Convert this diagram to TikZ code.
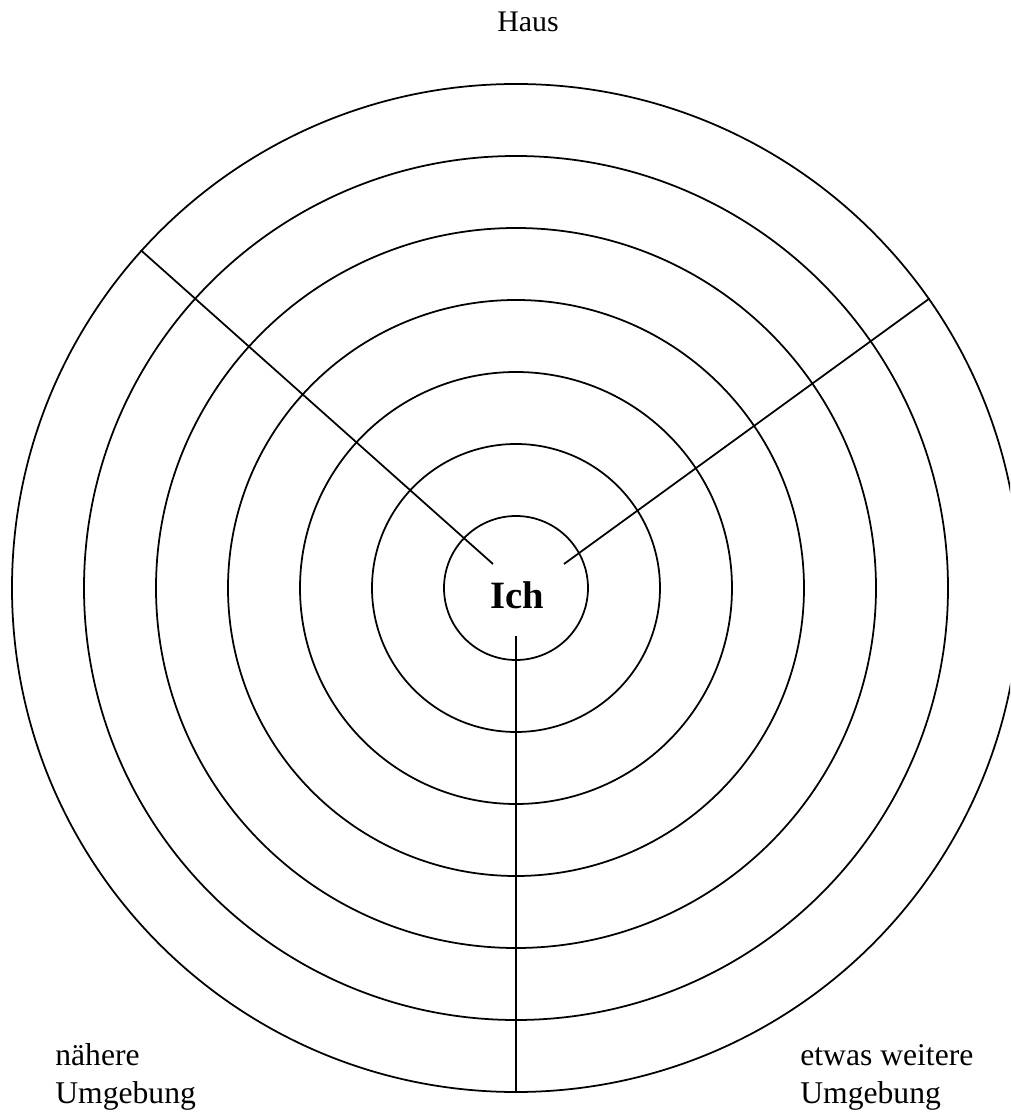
\documentclass[tikz,border=0pt]{standalone}
\usepackage{fontspec}
\setmainfont{Liberation Serif}
\usepackage{tikz}
\usetikzlibrary{positioning}

\begin{document}
\begin{tikzpicture}[ring/.style={draw, circle, line width=1pt, inner sep=0pt},
  spoke/.style={line width=1pt},
  label/.style={inner sep=0pt, font=\fontsize{18}{21}\selectfont}]

  % Fix the page size
  \useasboundingbox (-10.32,-10.5) rectangle (9.88,11.76);
  \clip (-10.32,-10.5) rectangle (9.88,11.76);

  % Define the rings round the centre
  \node[ring, minimum size=2.88cm] (r1) at (0,0) {};
  \node[ring, minimum size=5.76cm] (r2) at (0,0) {};
  \node[ring, minimum size=8.64cm] (r3) at (0,0) {};
  \node[ring, minimum size=11.52cm] (r4) at (0,0) {};
  \node[ring, minimum size=14.4cm] (r5) at (0,0) {};
  \node[ring, minimum size=17.28cm] (r6) at (0,0) {};
  \node[ring, minimum size=20.16cm] (r7) at (0,0) {};

  % Labels
  \node[inner sep=0pt, anchor=base, font=\fontsize{22}{26}\selectfont\bfseries] (ich) at (0.02,-0.42) {Ich};
  \node[label, anchor=base, font=\fontsize{17}{20}\selectfont] (haus) at (0.24,11.12) {Haus};
  \node[label, anchor=base west] (naehere) at (-9.22,-9.54) {nähere};
  \node[label, anchor=base west] (umg1) at (-9.22,-10.3) {Umgebung};
  \node[label, anchor=base west] (weitere) at (5.68,-9.54) {etwas weitere};
  \node[label, anchor=base west] (umg2) at (5.68,-10.3) {Umgebung};

  % Ends of the spokes
  \coordinate (s1) at (-0.46,0.48);
  \coordinate (s2) at (0.96,0.48);
  \coordinate (s3) at (0,-0.96);
  \coordinate (e1) at (r7.138.8);
  \coordinate (e2) at (r7.35.2);
  \coordinate (e3) at (r7.south);

  % Draw the spokes
  \draw[spoke] (s1) -- (e1);
  \draw[spoke] (s2) -- (e2);
  \draw[spoke] (s3) -- (e3);
\end{tikzpicture}
\end{document}
